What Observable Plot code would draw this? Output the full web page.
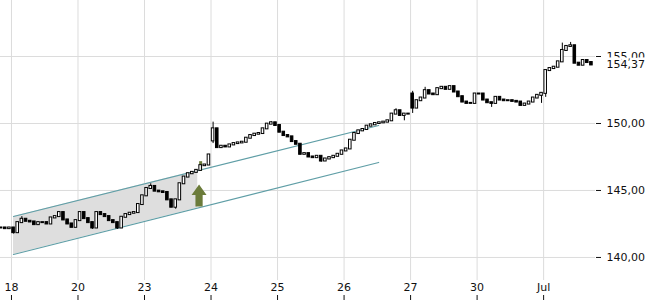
<!DOCTYPE html>
<html><head><meta charset="utf-8">
<script src="https://cdn.jsdelivr.net/npm/d3@7"></script>
<script src="https://cdn.jsdelivr.net/npm/@observablehq/plot@0.6"></script>
<style>body{margin:0;background:#fff;}</style>
</head><body><div id="chart"></div>
<script>
// ---- data ----
const dayLabels = ["18","20","23","24","25","26","27","30","Jul"];
const yTicks = [140, 145, 150, 155];
const slotsPerDay = 16;
// closes per candle (one array per trading day); day -1 holds only its last 3 candles
const preDay = [142.2, 142.15, 142.2];
const closesByDay = [
  [141.85,142.6,142.85,142.7,142.65,142.45,142.6,142.6,142.5,142.95,143.05,143.35,142.8,142.5,142.25,142.75],
  [143.35,142.9,142.6,142.2,143.35,143.2,143.05,142.75,142.6,142.2,143.0,143.2,143.3,143.35,143.95,144.6],
  [145.15,145.3,144.95,144.9,144.85,144.3,143.75,144.3,145.5,146.0,146.25,146.35,146.5,146.85,146.9,147.65],
  [149.6,148.2,148.3,148.25,148.4,148.5,148.55,148.6,148.9,149.1,149.2,149.25,149.6,149.95,150.05,149.85],
  [149.35,149.1,149.0,148.65,148.45,147.7,147.75,147.5,147.45,147.55,147.2,147.35,147.45,147.55,147.7,147.95],
  [148.1,148.75,149.25,149.45,149.55,149.8,149.9,150.0,150.05,150.1,150.2,150.7,150.95,150.6,150.7,150.7],
  [151.15,151.7,151.9,152.45,152.2,152.15,152.6,152.7,152.55,152.75,152.35,152.0,151.6,151.5,151.5,152.2],
  [152.2,151.75,151.55,151.5,151.95,151.75,151.7,151.7,151.65,151.6,151.35,151.45,151.6,151.9,152.1,152.25],
  [153.95,154.1,154.2,154.6,155.45,155.75,155.8,154.5,154.35,154.7,154.55,154.37]
];
// gap opens: [day, slot, open]
const gapOpens = [[3,0,148.7],[6,0,152.2]];
// explicit wicks: [day, slot, high, low]
const wicks = [
  [0,0,null,141.75],[0,2,143.05,null],[1,3,null,142.1],[1,9,null,142.1],
  [2,1,145.5,null],[2,7,null,143.6],[3,0,150.1,148.5],[3,14,150.15,null],
  [4,5,148.0,null],[4,10,null,147.1],[5,12,151.1,null],[5,14,null,150.2],
  [6,0,152.4,150.75],[6,3,152.7,null],[7,3,null,151.2],[7,15,null,151.5],
  [8,0,null,151.95],[8,4,156.0,null],[8,6,156.05,null]
];
// highlighted signal candle [day, slot, low, high]
const signalCandle = [2, 13, 146.45, 147.15];
// signal arrow: day position and price
const arrowDay = [2.82];
const arrowPrice = [144.63];
// trend channel
const channelDays = [0.03, 5.52];
const channelUpper = [143.06, 149.85];
const channelLower = [140.22, 147.09];
const channelFillEnd = 2.8;
const lastPrice = 154.37;

// ---- build candles ----
const candles = [];
let prev = preDay[0];
function add(day, slot, c) {
  const g = gapOpens.find(d => d[0] === day && d[1] === slot);
  const o = g ? g[2] : prev;
  const w = wicks.find(d => d[0] === day && d[1] === slot);
  let h = Math.max(o, c), l = Math.min(o, c);
  if (w && w[2] != null) h = Math.max(h, w[2]);
  if (w && w[3] != null) l = Math.min(l, w[3]);
  candles.push({t: day + (slot + 0.5) / slotsPerDay, o, c, h, l});
  prev = c;
}
preDay.forEach((c, i) => add(-1, slotsPerDay - preDay.length + i, c));
closesByDay.forEach((arr, d) => arr.forEach((c, s) => add(d, s, c)));

const lerp = (arr, t) => arr[0] + (arr[1] - arr[0]) * (t - channelDays[0]) / (channelDays[1] - channelDays[0]);
const chan = channelDays.map((t, i) => ({t, hi: channelUpper[i], lo: channelLower[i]}));
const fillPts = [channelDays[0], channelFillEnd].map(t => ({t, hi: lerp(channelUpper, t), lo: lerp(channelLower, t)}));
const sig = [{t: signalCandle[0] + (signalCandle[1] + 0.5) / slotsPerDay, lo: signalCandle[2], hi: signalCandle[3]}];
const arrows = arrowDay.map((t, i) => ({t, p: arrowPrice[i]}));

const arrowSymbol = {
  draw(ctx, size) {
    const r = Math.sqrt(size / Math.PI);
    const k = r / 11;
    ctx.moveTo(0, -11 * k);
    ctx.lineTo(7.5 * k, -0.5 * k);
    ctx.lineTo(3.6 * k, -0.5 * k);
    ctx.lineTo(3.6 * k, 11 * k);
    ctx.lineTo(-3.6 * k, 11 * k);
    ctx.lineTo(-3.6 * k, -0.5 * k);
    ctx.lineTo(-7.5 * k, -0.5 * k);
    ctx.closePath();
  }
};

const fmt = d => d.toFixed(2).replace(".", ",");
const dayIdx = dayLabels.map((_, i) => i);
const half = 0.5 / slotsPerDay;

const chart = Plot.plot({
  width: 650, height: 300,
  marginLeft: 0, marginRight: 55, marginTop: 0, marginBottom: 20,
  style: {fontFamily: "DejaVu Sans", fontSize: "11px", color: "#111", background: "white"},
  x: {domain: [-0.165, 8.78], axis: null},
  y: {domain: [138.28, 159.18], axis: null},
  marks: [
    Plot.gridY(yTicks, {stroke: "#dcdcdc", strokeOpacity: 1}),
    Plot.gridX(dayIdx, {stroke: "#dcdcdc", strokeOpacity: 1}),
    Plot.areaY(fillPts, {x: "t", y1: "lo", y2: "hi", fill: "#dedede"}),
    Plot.line(chan, {x: "t", y: "hi", stroke: "#5f9ea6", strokeWidth: 1.2}),
    Plot.line(chan, {x: "t", y: "lo", stroke: "#5f9ea6", strokeWidth: 1.2}),
    Plot.ruleX(sig, {x: "t", y1: "lo", y2: "hi", stroke: "#6b7b3a", strokeWidth: 3}),
    Plot.ruleX(candles, {x: "t", y1: "l", y2: "h", stroke: "black", strokeWidth: 1}),
    Plot.rect(candles, {
      x1: d => d.t - half, x2: d => d.t + half, y1: "o", y2: "c",
      fill: d => d.c < d.o ? "black" : "white", stroke: "black", strokeWidth: 1,
      insetLeft: 0.8, insetRight: 0.8, insetTop: -0.5, insetBottom: -0.5
    }),
    Plot.dot(arrows, {x: "t", y: "p", r: 11, symbol: arrowSymbol, fill: "#6b7b3a", stroke: "none"}),
    Plot.axisY(yTicks, {anchor: "right", tickSize: 5, tickPadding: 6, tickFormat: fmt, label: null}),
    Plot.text([lastPrice], {y: d => d, text: d => fmt(d), frameAnchor: "right", textAnchor: "start", dx: 11, fill: "#111", stroke: "white", strokeWidth: 5}),
    Plot.axisX(dayIdx, {anchor: "bottom", tickSize: 0, tickPadding: 3, tickFormat: i => dayLabels[i], label: null}),
    Plot.axisX(dayIdx, {anchor: "bottom", tickSize: 5, tickFormat: () => "", label: null, dy: 15})
  ]
});
document.getElementById("chart").appendChild(chart);
</script>
</body></html>
